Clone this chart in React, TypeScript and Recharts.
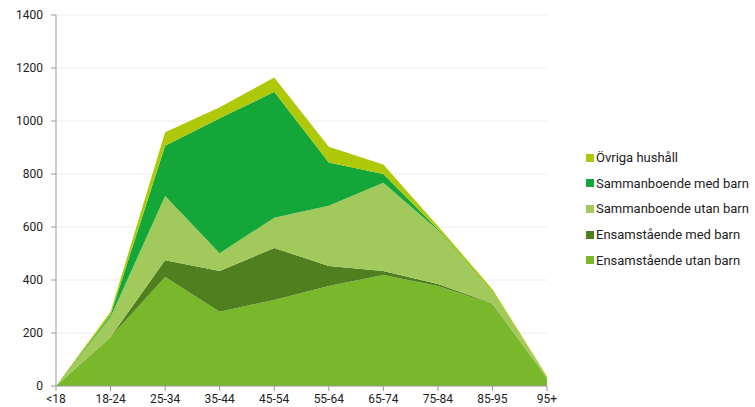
import React from "react";
import { AreaChart, Area, XAxis, YAxis, CartesianGrid } from "recharts";

const categories = ["<18", "18-24", "25-34", "35-44", "45-54", "55-64", "65-74", "75-84", "85-95", "95+"];
const ensamUtanBarn = [0, 185, 411, 280, 325, 377, 419, 377, 309, 30];
const ensamMedBarn = [0, 0, 64, 154, 196, 76, 15, 8, 2, 0];
const sambUtanBarn = [0, 75, 242, 67, 114, 227, 333, 204, 42, 4];
const sambMedBarn = [0, 8, 190, 509, 475, 163, 33, 3, 2, 0];
const ovriga = [0, 12, 51, 42, 54, 60, 36, 12, 10, 3];
const yTicks = [0, 200, 400, 600, 800, 1000, 1200, 1400];

const series = [
  { key: "ovriga", name: "Övriga hushåll", color: "#AFC80A", values: ovriga },
  { key: "sambMedBarn", name: "Sammanboende med barn", color: "#14A639", values: sambMedBarn },
  { key: "sambUtanBarn", name: "Sammanboende utan barn", color: "#A2C95B", values: sambUtanBarn },
  { key: "ensamMedBarn", name: "Ensamstående med barn", color: "#4F7F1E", values: ensamMedBarn },
  { key: "ensamUtanBarn", name: "Ensamstående utan barn", color: "#79B82B", values: ensamUtanBarn },
];

const data = categories.map((c, i) => {
  const row: Record<string, string | number> = { cat: c };
  series.forEach((s) => (row[s.key] = s.values[i]));
  return row;
});

const font = "Roboto, sans-serif";

export default function App() {
  const stackOrder = [...series].reverse();
  return (
    <div style={{ position: "absolute", left: 0, top: 0, width: 755, height: 407, fontFamily: font, background: "#fff" }}>
      <AreaChart width={755} height={407} data={data} margin={{ top: 15, right: 208, bottom: 0, left: 0 }}>
        <CartesianGrid horizontal vertical={false} stroke="#ececec" />
        <XAxis
          dataKey="cat"
          interval={0}
          tickLine={{ stroke: "#999" }}
          axisLine={{ stroke: "#999" }}
          tickSize={5}
          tickMargin={3}
          height={21}
          tick={{ fill: "#222", fontSize: 12, fontFamily: font }}
        />
        <YAxis
          domain={[0, 1400]}
          ticks={yTicks}
          interval={0}
          width={56}
          tickLine={{ stroke: "#999" }}
          axisLine={{ stroke: "#999" }}
          tickSize={5}
          tickMargin={8}
          tick={{ fill: "#222", fontSize: 12, fontFamily: font }}
        />
        {stackOrder.map((s) => (
          <Area
            key={s.key}
            type="linear"
            dataKey={s.key}
            name={s.name}
            stackId="1"
            stroke="none"
            fill={s.color}
            fillOpacity={1}
            isAnimationActive={false}
            dot={false}
            activeDot={false}
          />
        ))}
      </AreaChart>
      <div style={{ position: "absolute", left: 586, top: 145 }}>
        {series.map((s) => (
          <div key={s.key} style={{ display: "flex", alignItems: "center", height: 25.6, fontSize: 13, color: "#222" }}>
            <span style={{ display: "inline-block", width: 8, height: 8, background: s.color, marginRight: 2 }} />
            <span>{s.name}</span>
          </div>
        ))}
      </div>
    </div>
  );
}
